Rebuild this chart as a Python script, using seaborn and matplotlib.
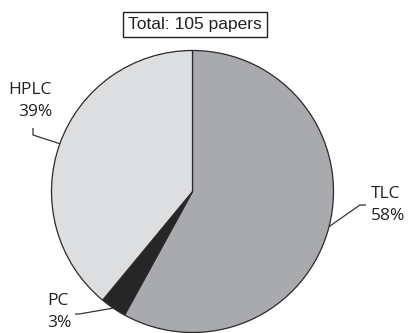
import numpy as np
import matplotlib
matplotlib.use("Agg")
import matplotlib.pyplot as plt
import seaborn as sns

# Share of papers by chromatographic technique
techniques = ["TLC", "PC", "HPLC"]
shares = [58, 3, 39]
total_papers = 105
colors = ["#a9aaae", "#262626", "#dddee0"]

sns.set_theme(style="white")
plt.rcParams["font.family"] = ["Open Sans", "DejaVu Sans"]

W, H, DPI = 408, 333, 100
fig = plt.figure(figsize=(W / DPI, H / DPI), dpi=DPI)
ax = fig.add_axes([0, 0, 1, 1])

wedges, _ = ax.pie(
    shares,
    colors=colors,
    startangle=90,
    counterclock=False,
    wedgeprops=dict(edgecolor="#2a2a2a", linewidth=0.9),
)

# Pie of radius 1 centred at (0, 0); 141 px per data unit
cx, cy, r = 192.5, 191.5, 141.0
ax.set_xlim(-cx / r, (W - cx) / r)
ax.set_ylim((cy - H) / r, cy / r)
ax.set_aspect("auto")
ax.axis("off")


def px(x, y):
    return (x - cx) / r, (cy - y) / r


# label placement: (elbow px, stub end px, text anchor px, ha)
layout = {
    "TLC": ((360, 205), (366, 205), (371, 205), "left"),
    "PC": ((79, 314), (75, 314), (47, 312), "left"),
    "HPLC": ((33, 135), (33, 128), (52, 101), "right"),
}

for w, name, val in zip(wedges, techniques, shares):
    mid = np.deg2rad((w.theta1 + w.theta2) / 2)
    ex, ey = np.cos(mid), np.sin(mid)
    elbow, stub, anchor, ha = layout[name]
    bx, by = px(*elbow)
    sx, sy = px(*stub)
    ax.plot([ex, bx, sx], [ey, by, sy], color="#333333", lw=0.9,
            solid_capstyle="butt", clip_on=False)
    tx, ty = px(*anchor)
    ax.text(tx, ty, f"{name}\n{val}%", ha=ha, va="center",
            multialignment=ha, fontsize=12.5, color="#222222",
            linespacing=1.5)

fig.text(195 / W, 1 - 24.5 / H, f"Total: {total_papers} papers",
         ha="center", va="center", fontsize=12.5, color="#222222",
         family=["Liberation Sans", "DejaVu Sans"],
         bbox=dict(boxstyle="square,pad=0.3", facecolor="white",
                   edgecolor="#222222", linewidth=1.0))

fig.savefig("out.png", dpi=DPI)
